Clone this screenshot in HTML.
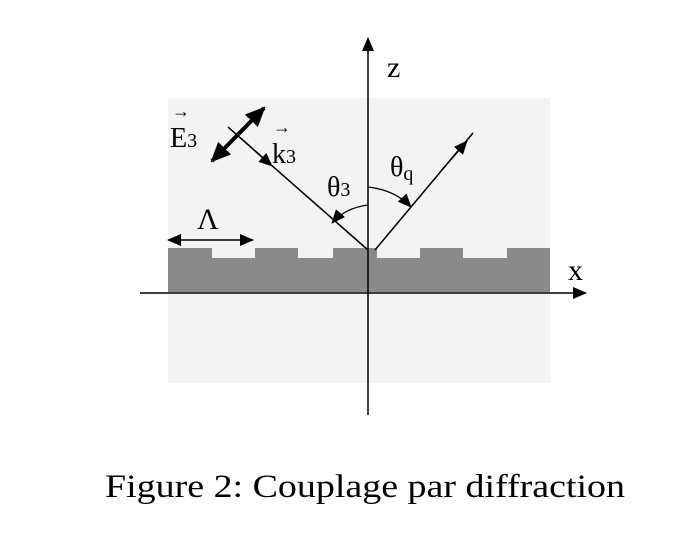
<!DOCTYPE html>
<html><head><style>body{margin:0;background:#fff}svg{display:block}</style></head><body>
<svg width="678" height="538" viewBox="0 0 678 538" xmlns="http://www.w3.org/2000/svg">
<defs>
<marker id="a" markerWidth="14" markerHeight="12" refX="13" refY="6" orient="auto" markerUnits="userSpaceOnUse"><path d="M0,0 L14,6 L0,12 Z" fill="#000"/></marker>
<marker id="b" markerWidth="20" markerHeight="18" refX="18" refY="9" orient="auto" markerUnits="userSpaceOnUse"><path d="M0,0 L20,9 L0,18 Z" fill="#000"/></marker>
<marker id="bs" markerWidth="20" markerHeight="18" refX="2" refY="9" orient="auto" markerUnits="userSpaceOnUse"><path d="M20,0 L0,9 L20,18 Z" fill="#000"/></marker>
<marker id="s" markerWidth="14" markerHeight="12" refX="1" refY="6" orient="auto" markerUnits="userSpaceOnUse"><path d="M14,0 L0,6 L14,12 Z" fill="#000"/></marker>
</defs>
<rect x="168" y="98" width="382" height="285" fill="#f3f3f3"/>
<path d="M168,248 H212 V258 H255 V248 H298 V258 H333 V248 H377 V258 H420 V248 H463 V258 H507 V248 H550 V292 H168 Z" fill="#8a8a8a"/>
<line x1="368" y1="415" x2="368" y2="38" stroke="#000" stroke-width="1.5" marker-end="url(#a)"/>
<line x1="140" y1="293" x2="586" y2="293" stroke="#000" stroke-width="1.5" marker-end="url(#a)"/>
<line x1="368" y1="250" x2="228" y2="127" stroke="#000" stroke-width="1.5"/>
<line x1="240" y1="137.5" x2="272" y2="166" stroke="#000" stroke-width="1.5" marker-end="url(#a)"/>
<line x1="375" y1="250" x2="473" y2="133" stroke="#000" stroke-width="1.5"/>
<line x1="440" y1="172" x2="467" y2="141" stroke="#000" stroke-width="1.5" marker-end="url(#a)"/>
<line x1="212" y1="161" x2="264" y2="108" stroke="#000" stroke-width="4" marker-start="url(#bs)" marker-end="url(#b)"/>
<path d="M368,187 Q395,190 411,207" fill="none" stroke="#000" stroke-width="1.3" marker-end="url(#a)"/>
<path d="M368,205 Q345,208 332,223" fill="none" stroke="#000" stroke-width="1.3" marker-end="url(#a)"/>
<line x1="168" y1="240" x2="253" y2="240" stroke="#000" stroke-width="1.5" marker-start="url(#s)" marker-end="url(#a)"/>
<g font-family="Liberation Serif, serif" fill="#000">
<text x="387" y="77" font-size="30">z</text>
<text x="568" y="280" font-size="30">x</text>
<text x="197" y="229" font-size="30">Λ</text>
<text x="170" y="147" font-size="28">E<tspan font-size="20">3</tspan></text>
<text x="172" y="117" font-size="18">→</text>
<text x="272" y="163" font-size="28">k<tspan font-size="20">3</tspan></text>
<text x="273" y="133" font-size="18">→</text>
<text x="327" y="196" font-size="28">θ<tspan font-size="20">3</tspan></text>
<text x="390" y="176" font-size="28">θ<tspan font-size="20" dy="4">q</tspan></text>
<text x="105" y="497" font-size="33" textLength="520" lengthAdjust="spacingAndGlyphs">Figure 2: Couplage par diffraction</text>
</g>
</svg>
</body></html>
